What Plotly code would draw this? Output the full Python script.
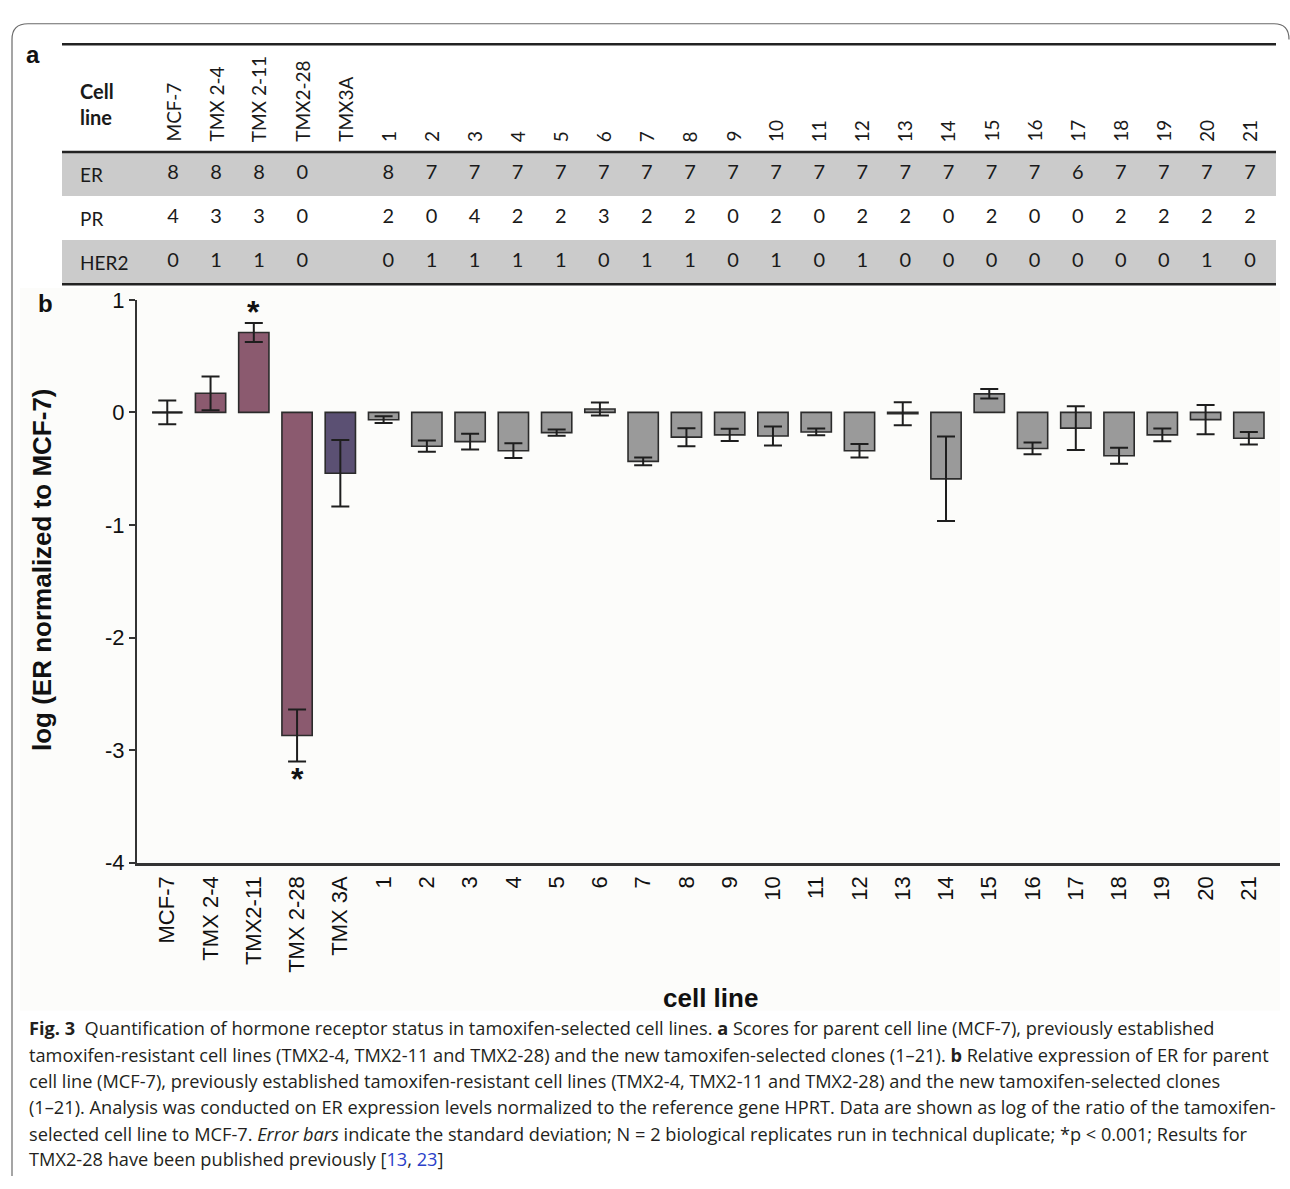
import plotly.graph_objects as go

# ---------------- data ----------------
cell_lines = ["MCF-7", "TMX 2-4", "TMX2-11", "TMX 2-28", "TMX 3A"] + [str(i) for i in range(1, 22)]
log_er = [0.0, 0.17, 0.71, -2.87, -0.54,
          -0.065, -0.30, -0.26, -0.34, -0.18, 0.03, -0.435, -0.22, -0.20, -0.21,
          -0.174, -0.34, -0.012, -0.59, 0.165, -0.32, -0.14, -0.385, -0.20, -0.064, -0.23]
log_er_sd = [0.105, 0.15, 0.085, 0.23, 0.295,
             0.03, 0.05, 0.07, 0.065, 0.028, 0.058, 0.035, 0.08, 0.055, 0.085,
             0.03, 0.06, 0.102, 0.375, 0.042, 0.052, 0.195, 0.072, 0.057, 0.13, 0.055]
group = ["parent", "resistant", "resistant", "resistant", "tmx3a"] + ["clone"] * 21
significant = ["TMX2-11", "TMX 2-28"]

table_cols = ["MCF-7", "TMX 2-4", "TMX 2-11", "TMX2-28", "TMX3A"] + [str(i) for i in range(1, 22)]
table_rows = ["ER", "PR", "HER2"]
er_score = [8, 8, 8, 0, None, 8, 7, 7, 7, 7, 7, 7, 7, 7, 7, 7, 7, 7, 7, 7, 7, 6, 7, 7, 7, 7]
pr_score = [4, 3, 3, 0, None, 2, 0, 4, 2, 2, 3, 2, 2, 0, 2, 0, 2, 2, 0, 2, 0, 0, 2, 2, 2, 2]
her2_score = [0, 1, 1, 0, None, 0, 1, 1, 1, 1, 0, 1, 1, 0, 1, 0, 1, 0, 0, 0, 0, 0, 0, 0, 1, 0]

caption_lines = [
    "<b>Fig. 3</b>  Quantification of hormone receptor status in tamoxifen-selected cell lines. <b>a</b> Scores for parent cell line (MCF-7), previously established",
    "tamoxifen-resistant cell lines (TMX2-4, TMX2-11 and TMX2-28) and the new tamoxifen-selected clones (1–21). <b>b</b> Relative expression of ER for parent",
    "cell line (MCF-7), previously established tamoxifen-resistant cell lines (TMX2-4, TMX2-11 and TMX2-28) and the new tamoxifen-selected clones",
    "(1–21). Analysis was conducted on ER expression levels normalized to the reference gene HPRT. Data are shown as log of the ratio of the tamoxifen-",
    "selected cell line to MCF-7. <i>Error bars</i> indicate the standard deviation; N = 2 biological replicates run in technical duplicate; *p &lt; 0.001; Results for",
    "TMX2-28 have been published previously [<span style='color:#2b3fc9'>13</span>, <span style='color:#2b3fc9'>23</span>]",
]

# ---------------- styling ----------------
W, H = 1290, 1189
group_colors = {"parent": "#8b5a6f", "resistant": "#8b5a6f", "tmx3a": "#5b5073", "clone": "#9a9a9a"}
ARIAL = "Liberation Sans, Arial, sans-serif"
TABLE_FONT = "Lato, Open Sans, sans-serif"
CAP_FONT = "Open Sans, sans-serif"


def px_x(p):
    return p / W


def px_y(p):
    return 1 - p / H


fig = go.Figure()

# ---------------- panel b: bar chart ----------------
fig.add_trace(go.Bar(
    x=cell_lines, y=log_er,
    marker=dict(color=[group_colors[g] for g in group], line=dict(color="#2b2b2b", width=1.6)),
    width=0.7,
    error_y=dict(type="data", array=log_er_sd, visible=True, color="#1e1e1e", thickness=2, width=9),
    xaxis="x", yaxis="y", showlegend=False,
))

# zero-height bar outline for the parent line
shapes = []
for name, v in zip(cell_lines, log_er):
    if v == 0:
        i = cell_lines.index(name)
        shapes.append(dict(type="line", xref="x", yref="y", x0=i - 0.35, x1=i + 0.35, y0=v, y1=v,
                           line=dict(color="#1e1e1e", width=2)))

annotations = []
for name in significant:
    i = cell_lines.index(name)
    v, sd = log_er[i], log_er_sd[i]
    if v >= 0:
        annotations.append(dict(x=name, y=v + sd, xref="x", yref="y", text="<b>*</b>", showarrow=False,
                                yanchor="bottom", yshift=-9, font=dict(family=ARIAL, size=32, color="#111")))
    else:
        annotations.append(dict(x=name, y=v - sd, xref="x", yref="y", text="<b>*</b>", showarrow=False,
                                yanchor="top", yshift=2, font=dict(family=ARIAL, size=32, color="#111")))

# ---------------- panel a: score table ----------------
col_idx = list(range(len(table_cols)))
scores = [er_score, pr_score, her2_score]
tx, ty, tt = [], [], []
for r, row in enumerate(scores):
    for c, val in enumerate(row):
        if val is not None:
            tx.append(c)
            ty.append(r)
            tt.append(str(val))
fig.add_trace(go.Scatter(
    x=tx, y=ty, text=tt, mode="text", textposition="middle center",
    textfont=dict(family=TABLE_FONT, size=20, color="#1a1a1a"),
    xaxis="x2", yaxis="y2", showlegend=False, hoverinfo="skip",
))

# row bands and row labels
for r in range(len(table_rows)):
    if r % 2 == 0:
        shapes.append(dict(type="rect", xref="paper", yref="y2", x0=px_x(62), x1=px_x(1276),
                           y0=r - 0.5, y1=r + 0.5, fillcolor="#cbcbcb", line=dict(width=0), layer="below"))
    annotations.append(dict(x=px_x(78), y=r, xref="paper", yref="y2", text=table_rows[r], showarrow=False,
                            xanchor="left", yanchor="middle", font=dict(family=TABLE_FONT, size=19, color="#1a1a1a")))

# column headers
for c, name in zip(col_idx, table_cols):
    annotations.append(dict(x=c, y=-0.5, xref="x2", yref="y2", text=name, showarrow=False, textangle=-90,
                            xanchor="center", yanchor="bottom", yshift=8,
                            font=dict(family=TABLE_FONT, size=19, color="#1a1a1a")))
annotations.append(dict(x=px_x(78), y=px_y(94), xref="paper", yref="paper", text="<b>Cell<br>line</b>",
                        showarrow=False, xanchor="left", yanchor="middle", align="left",
                        font=dict(family=TABLE_FONT, size=20, color="#1a1a1a")))

# table rules
shapes.append(dict(type="line", xref="paper", yref="paper", x0=px_x(62), x1=px_x(1276), y0=px_y(33), y1=px_y(33),
                   line=dict(color="#222", width=2.5)))
for yv in (-0.5, len(table_rows) - 0.5):
    shapes.append(dict(type="line", xref="paper", yref="y2", x0=px_x(62), x1=px_x(1276), y0=yv, y1=yv,
                       line=dict(color="#222", width=2.5)))

# ---------------- figure frame, labels, caption ----------------
shapes.append(dict(type="rect", xref="paper", yref="paper", x0=px_x(20), x1=px_x(1280), y0=px_y(1020), y1=px_y(282),
                   fillcolor="#fcfcfa", line=dict(width=0), layer="below"))
frame = (f"M {px_x(12)},{px_y(1189)} L {px_x(12)},{px_y(28)} Q {px_x(12)},{px_y(12)} {px_x(28)},{px_y(12)} "
         f"L {px_x(1274)},{px_y(12)} Q {px_x(1289)},{px_y(12)} {px_x(1289)},{px_y(28)}")
shapes.append(dict(type="path", xref="paper", yref="paper", path=frame, line=dict(color="#6a6a6a", width=1.2)))

annotations += [
    dict(x=px_x(24), y=px_y(43), xref="paper", yref="paper", text="<b>a</b>", showarrow=False,
         xanchor="left", yanchor="middle", font=dict(family=ARIAL, size=24, color="#111")),
    dict(x=px_x(36), y=px_y(298), xref="paper", yref="paper", text="<b>b</b>", showarrow=False,
         xanchor="left", yanchor="middle", font=dict(family=ARIAL, size=24, color="#111")),
    dict(x=px_x(42), y=px_y(570), xref="paper", yref="paper", text="<b>log (ER normalized to MCF-7)</b>",
         showarrow=False, textangle=-90, xanchor="center", yanchor="middle",
         font=dict(family=ARIAL, size=26, color="#111")),
    dict(x=px_x(710), y=px_y(1007), xref="paper", yref="paper", text="<b>cell line</b>", showarrow=False,
         xanchor="center", yanchor="middle", font=dict(family=ARIAL, size=26, color="#111")),
]
cap_y = [1038, 1065, 1092, 1119, 1146, 1172]
for line, yy in zip(caption_lines, cap_y):
    annotations.append(dict(x=px_x(27), y=px_y(yy), xref="paper", yref="paper", text=line, showarrow=False,
                            xanchor="left", yanchor="middle", align="left",
                            font=dict(family=CAP_FONT, size=18.2, color="#231f20")))

# table axes: column index and row index mapped onto the page
col_px0, col_step = 173, 43.08
row_px0, row_step = 165.5, 45.0

fig.update_layout(
    width=W, height=H, autosize=False,
    margin=dict(l=0, r=0, t=0, b=0, pad=0),
    paper_bgcolor="white", plot_bgcolor="rgba(0,0,0,0)",
    bargap=0.3,
    xaxis=dict(domain=[px_x(137), px_x(1280)], type="category", range=[-0.7, len(cell_lines) - 0.28],
               showline=True, linecolor="#333", linewidth=2.5, ticks="", tickangle=-90,
               tickfont=dict(family=ARIAL, size=22, color="#111"), showgrid=False, zeroline=False,
               anchor="y", ticklabelstandoff=2),
    yaxis=dict(domain=[px_y(869), px_y(294)], range=[-4, 1], tickvals=[1, 0, -1, -2, -3, -4],
               ticktext=["1", "0", "-1", "-2", "-3", "-4"], ticks="outside", ticklen=6, tickwidth=1.5,
               tickcolor="#333", showline=True, linecolor="#333", linewidth=2, showgrid=False,
               zeroline=False, tickfont=dict(family=ARIAL, size=22, color="#111"), anchor="x"),
    xaxis2=dict(domain=[0, 1], range=[(0 - col_px0) / col_step, (W - col_px0) / col_step],
                visible=False, anchor="y2"),
    yaxis2=dict(domain=[0, 1], range=[(H - row_px0) / row_step, (0 - row_px0) / row_step],
                visible=False, anchor="x2"),
    shapes=shapes, annotations=annotations,
)

fig.write_html("out.html")
